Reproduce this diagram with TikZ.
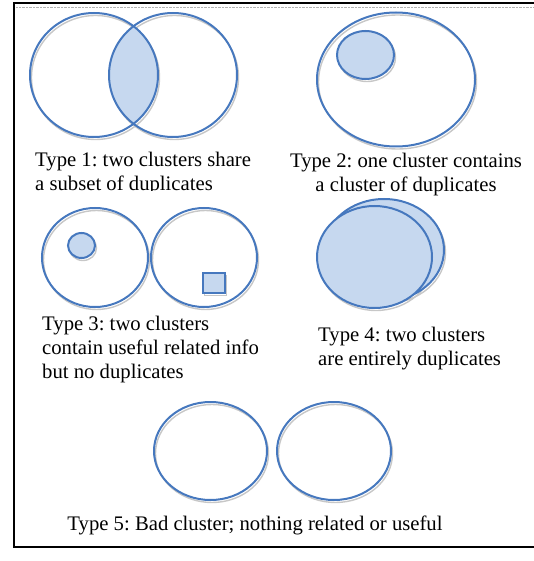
\documentclass[tikz,border=0pt]{standalone}
\usepackage{fontspec}
\setmainfont{Liberation Serif}
\frenchspacing
\definecolor{clublue}{RGB}{70,120,190}
\definecolor{dupfill}{RGB}{198,216,239}
\begin{document}
\begin{tikzpicture}[x=1pt,y=-1pt]
\tikzset{clu/.style={draw=clublue, line width=2pt},
  dup/.style={clu, fill=dupfill},
  ombre/.style={draw=black!22, line width=1.4pt, shift={(1.5,2.5)}},
  legende/.style={inner sep=0pt, font=\fontsize{20.7}{24}\selectfont, align=left}}
\useasboundingbox (0,0) rectangle (534,561);
\draw[line width=2.4pt] (534,3) -- (14,3) -- (14,547) -- (534,547);
\draw[black!30, densely dotted] (16,7) -- (534,7);
\draw[ombre] (94,75) ellipse [x radius=64, y radius=62];
\draw[ombre] (173,75) ellipse [x radius=64, y radius=62];
\begin{scope}
\clip (94,75) ellipse [x radius=64, y radius=62];
\fill[dupfill] (173,75) ellipse [x radius=64, y radius=62];
\end{scope}
\draw[clu] (94,75) ellipse [x radius=64, y radius=62];
\draw[clu] (173,75) ellipse [x radius=64, y radius=62];
\begin{scope}
\clip (20,140) rectangle (270,191);
\node[legende, anchor=base west] (t1) at (35,190) {Type 1: two clusters share\\a subset of duplicates};
\end{scope}
\draw[ombre] (396,79.5) ellipse [x radius=79, y radius=67];
\draw[ombre] (365.5,55) ellipse [x radius=28.5, y radius=24];
\draw[clu] (396,79.5) ellipse [x radius=79, y radius=67];
\draw[dup] (365.5,55) ellipse [x radius=28.5, y radius=24];
\node[legende, align=center, anchor=base] (t2) at (406,192) {Type 2: one cluster contains\\a cluster of duplicates};
\draw[ombre] (95,257.5) ellipse [x radius=53, y radius=49.5];
\draw[ombre] (204,257.5) ellipse [x radius=53, y radius=49.5];
\draw[ombre] (81.5,245.5) ellipse [x radius=13.5, y radius=12.5];
\draw[ombre] (203,273) rectangle (225,293);
\draw[clu] (95,257.5) ellipse [x radius=53, y radius=49.5];
\draw[clu] (204,257.5) ellipse [x radius=53, y radius=49.5];
\draw[dup] (81.5,245.5) ellipse [x radius=13.5, y radius=12.5];
\draw[dup] (203,273) rectangle (225,293);
\node[legende, anchor=base west] (t3) at (42,378) {Type 3: two clusters\\contain useful related info\\but no duplicates};
\draw[ombre] (384,250) ellipse [x radius=60, y radius=51];
\draw[ombre] (374.5,257) ellipse [x radius=57.5, y radius=51];
\draw[dup] (384,250) ellipse [x radius=60, y radius=51];
\draw[dup] (374.5,257) ellipse [x radius=57.5, y radius=51];
\node[legende, anchor=base west] (t4) at (318,365) {Type 4: two clusters\\are entirely duplicates};
\draw[ombre] (210.5,451) ellipse [x radius=56.5, y radius=49];
\draw[ombre] (334,451) ellipse [x radius=57, y radius=49];
\draw[clu] (210.5,451) ellipse [x radius=56.5, y radius=49];
\draw[clu] (334,451) ellipse [x radius=57, y radius=49];
\node[legende, anchor=base] (t5) at (255,530) {Type 5: Bad cluster; nothing related or useful};
\end{tikzpicture}
\end{document}
